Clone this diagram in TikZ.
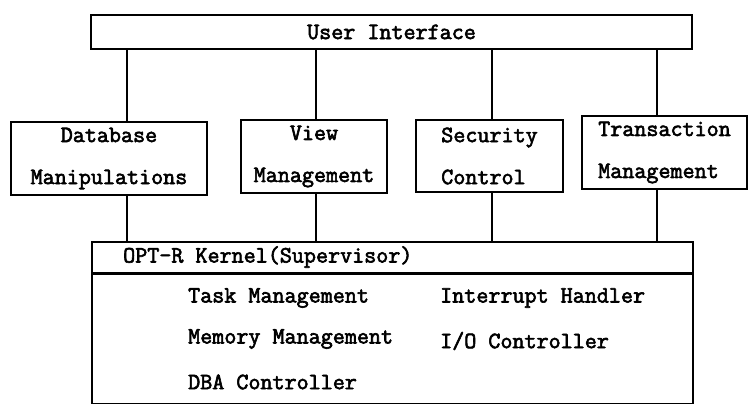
\documentclass[tikz,border=0pt]{standalone}
\usepackage{fontspec}
\newfontfamily\labelfont{Latin Modern Mono}[FakeBold=2.6]
\usepackage{tikz}

\begin{document}
\begin{tikzpicture}[x=1pt, y=1pt,
    box/.style={draw, line width=1.5pt, inner sep=0pt},
    txt/.style={font=\labelfont\fontsize{23.4}{42}\selectfont, inner sep=0pt},
    wire/.style={line width=1.5pt}]

    \useasboundingbox (0,0) rectangle (748,404);

    % User interface on top
    \node[box, txt, minimum width=601pt, minimum height=34pt] (ui) at (391.5,372) {User Interface};

    % Middle row of modules
    \node[box, txt, align=center, minimum width=196pt, minimum height=73pt] (db) at (109,245.5) {Database\\Manipulations};
    \node[box, txt, align=center, minimum width=146pt, minimum height=73pt] (view) at (314,247.5) {View\\Management};
    \node[box, txt, align=left, minimum width=147pt, minimum height=72pt] (sec) at (489.5,248) {Security\\Control};
    \node[box, txt, align=left, minimum width=165pt, minimum height=73pt] (trans) at (664.5,251.5) {Transaction\\Management};

    % Kernel: header strip and body
    \node[box, minimum width=601pt, minimum height=31pt] (head) at (392.5,146.5) {};
    \node[box, minimum width=601pt, minimum height=129pt, anchor=north] (kern) at (head.south) {};
    \node[txt, anchor=west] (headtxt) at (123,147) {OPT-R Kernel(Supervisor)};

    % Kernel services
    \node[txt, anchor=west] (task) at (188,106) {Task Management};
    \node[txt, anchor=west] (mem) at (188,65) {Memory Management};
    \node[txt, anchor=west] (dba) at (188,22) {DBA Controller};
    \node[txt, anchor=west] (intr) at (440,106) {Interrupt Handler};
    \node[txt, anchor=west] (io) at (440,63) {I/O Controller};

    % Links: user interface -> module -> kernel
    \foreach \x/\m in {127/db, 316/view, 492/sec, 657/trans} {
      \coordinate (c\m) at (\x,0);
      \draw[wire] (c\m |- ui.south) -- (c\m |- \m.north);
      \draw[wire] (c\m |- \m.south) -- (c\m |- head.north);
    }

\end{tikzpicture}
\end{document}
